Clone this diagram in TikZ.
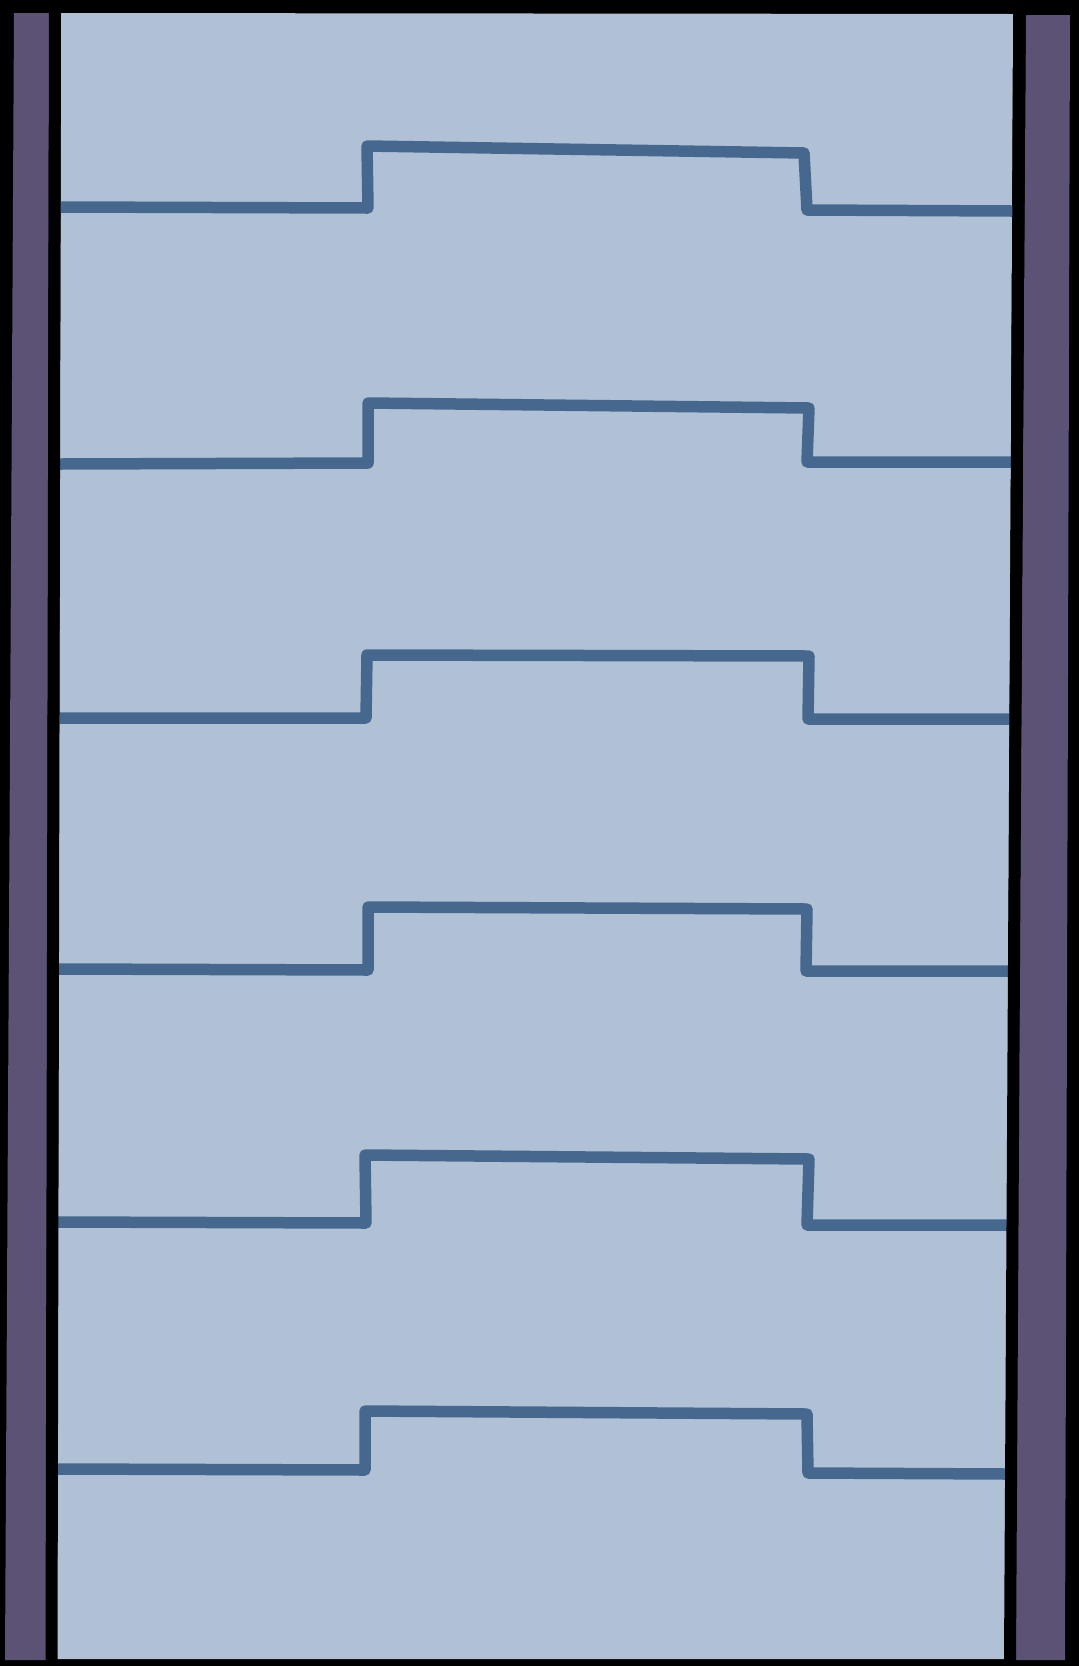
\documentclass[tikz,border=0pt]{standalone}
\definecolor{strip}{RGB}{92,82,117}
\definecolor{panel}{RGB}{176,193,214}
\definecolor{stepline}{RGB}{70,104,143}
\begin{document}
\begin{tikzpicture}[x=1pt,y=-1pt,
  steppath/.style={draw=stepline,line width=11.5pt,line join=round,line cap=round},
  border/.style={draw=black,line width=12pt}]
\useasboundingbox (0,0) rectangle (1079,1666);
\fill[black] (0,0) rectangle (1079,1666);
% side strips
\fill[strip] (14,13) -- (49,13) -- (46,1660) -- (5,1660) -- cycle;
\fill[strip] (1026,15) -- (1070,15) -- (1065,1660) -- (1015,1660) -- cycle;
% panel
\fill[panel] (61,13) -- (1013,14) -- (1005,1659) -- (57,1659) -- cycle;
% steps
\draw[steppath] (60,207) -- (368,208) -- (367,146) -- (804,153) -- (807,210) -- (1012,211);
\draw[steppath] (60,464) -- (368,463) -- (368,403) -- (809,408) -- (807,462) -- (1012,462);
\draw[steppath] (59,718) -- (366,718) -- (367,655) -- (809,656) -- (808,719) -- (1011,719);
\draw[steppath] (59,969) -- (368,970) -- (368,907) -- (807,909) -- (806,971) -- (1010,971);
\draw[steppath] (58,1222) -- (366,1223) -- (365,1155) -- (809,1159) -- (807,1225) -- (1009,1225);
\draw[steppath] (58,1469) -- (365,1470) -- (365,1411) -- (807,1414) -- (808,1473) -- (1007,1474);
% borders
\draw[border] (55,6) -- (51.5,1660);
\draw[border] (1019.5,6) -- (1010,1660);
\end{tikzpicture}
\end{document}
